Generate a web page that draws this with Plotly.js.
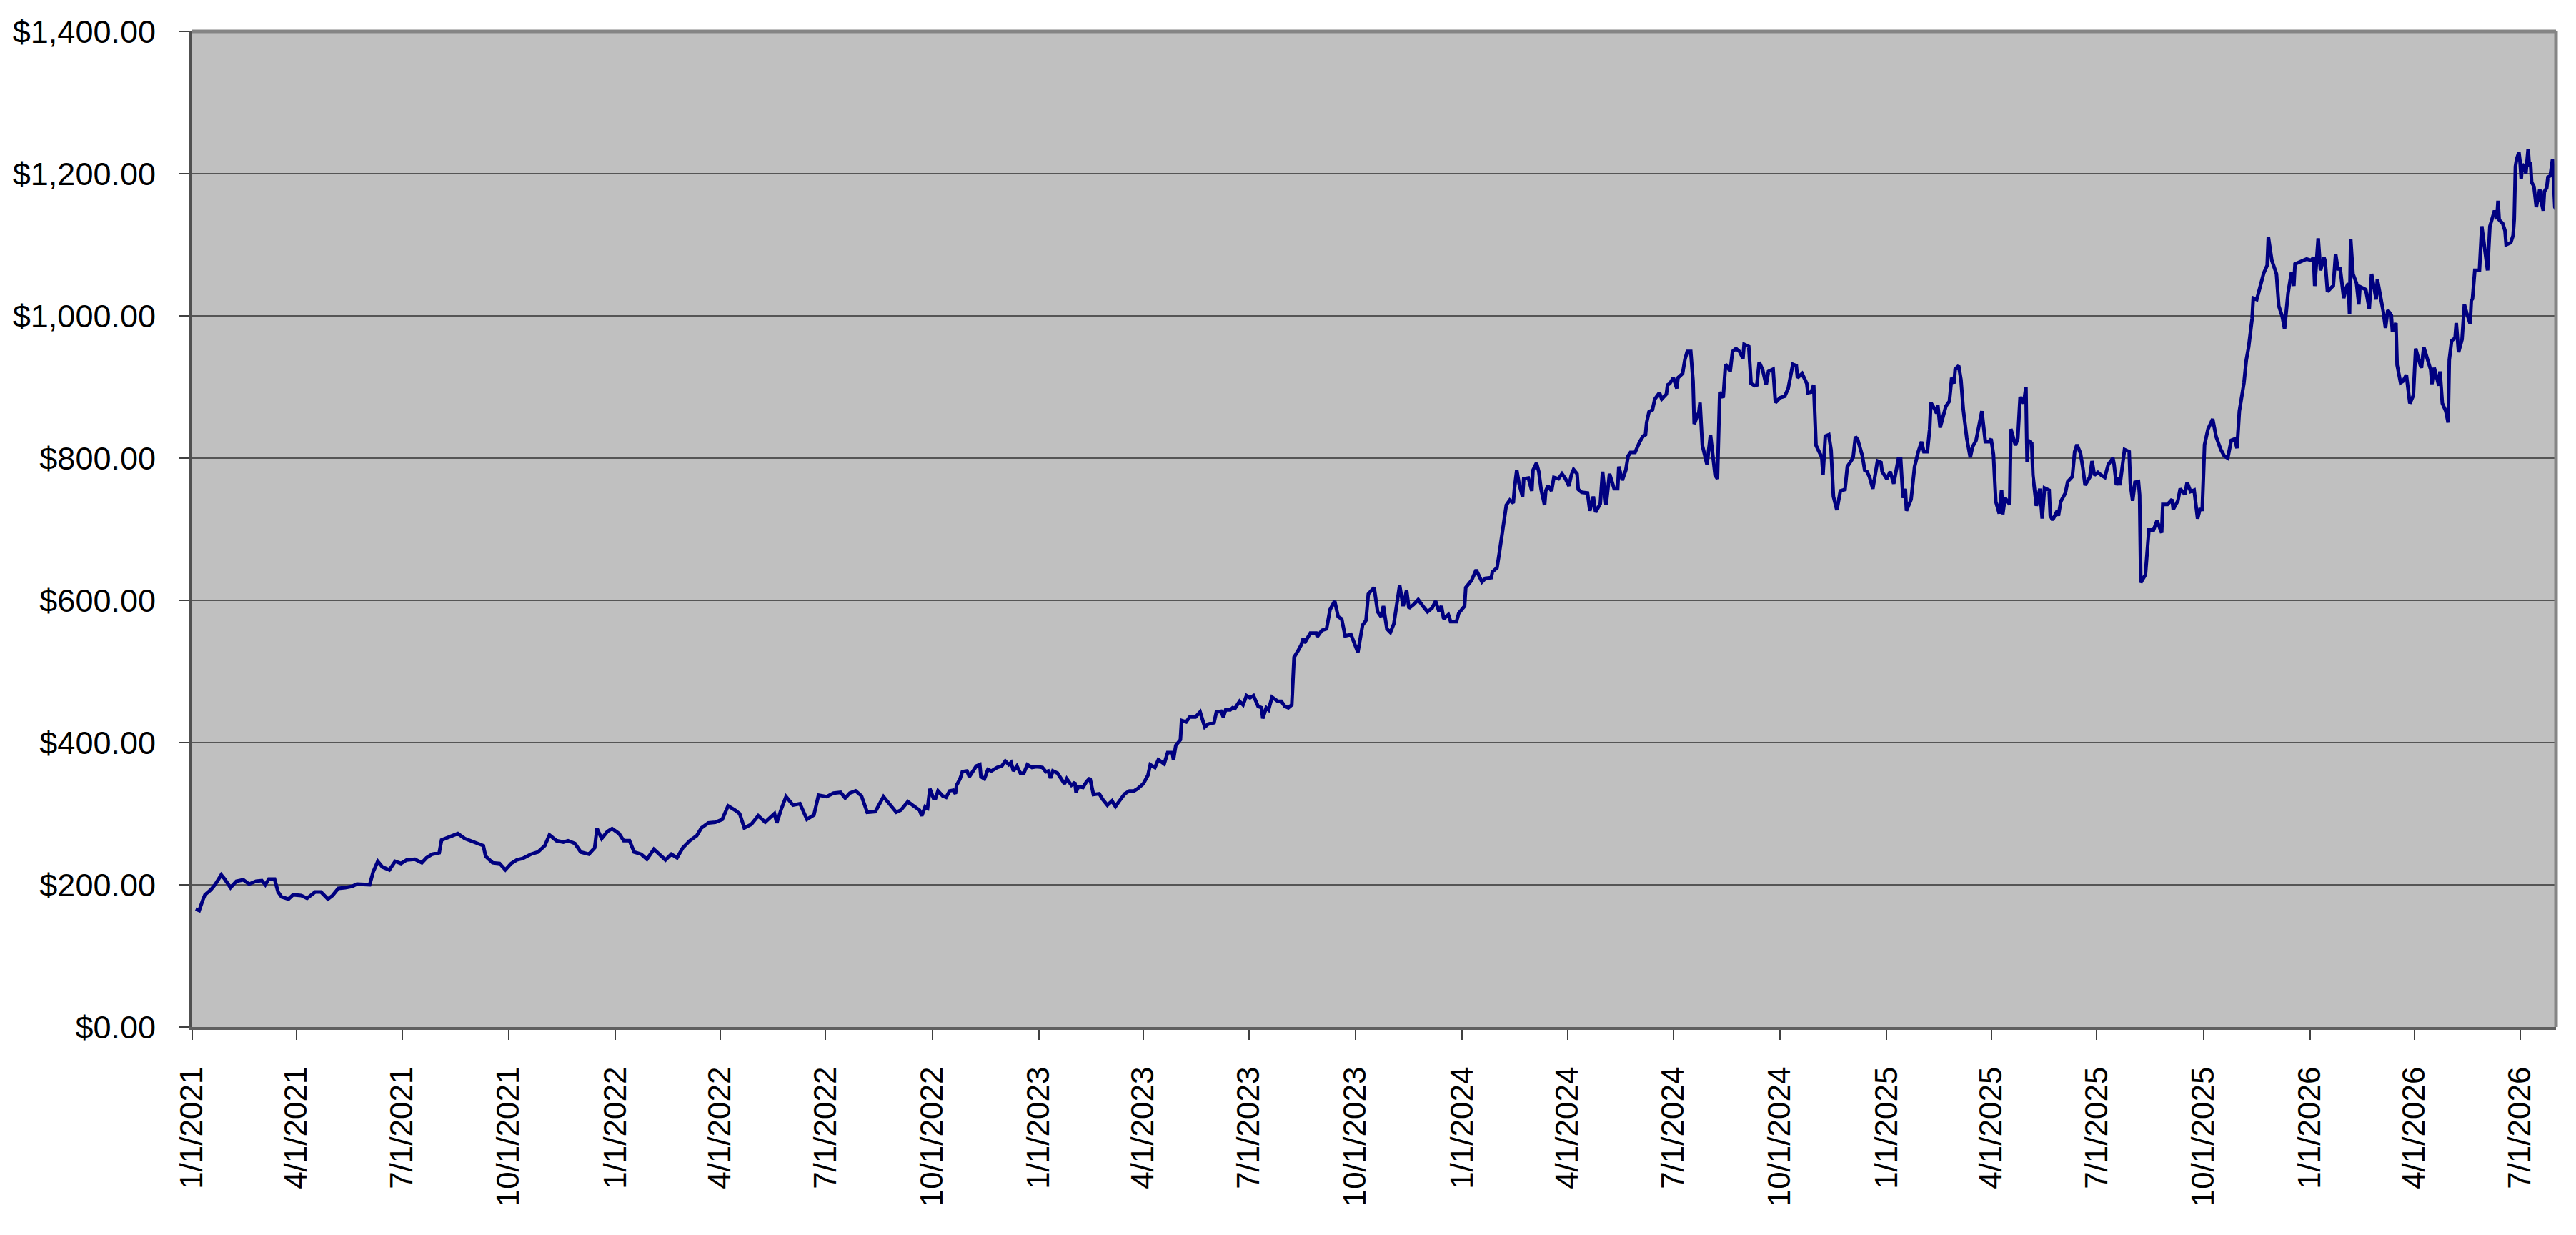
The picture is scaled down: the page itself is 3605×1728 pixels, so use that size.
<!DOCTYPE html>
<html>
<head>
<meta charset="utf-8">
<script src="https://cdn.plot.ly/plotly-3.0.1.min.js"></script>
<style>
  html, body { margin: 0; padding: 0; background: #fff; }
</style>
</head>
<body>
<div id="chart"></div>
<script>
// start of the series, every x value is a day count from here
const startDate = Date.UTC(2021, 0, 1);

// day offsets
const dayOffsets = [
  3, 6, 9, 11, 16, 20, 25, 28, 33, 38, 44, 49, 55, 60, 63, 66, 71, 74, 77, 83, 87, 94, 99, 106, 111, 117, 121, 126, 132, 138,
  142, 148, 153, 156, 160, 164, 170, 175, 180, 185, 192, 198, 202, 207, 213, 215, 221, 229, 235, 241, 247, 251, 253, 259, 265, 270, 275, 280, 285, 292,
  298, 304, 308, 314, 320, 324, 330, 335, 342, 347, 349, 353, 358, 362, 368, 372, 377, 381, 387, 392, 398, 403, 408, 413, 418, 423, 429, 435, 439, 445,
  451, 457, 462, 468, 472, 476, 482, 488, 494, 502, 504, 508, 512, 518, 524, 530, 536, 540, 547, 553, 559, 563, 567, 572, 577, 582, 589, 596, 601, 607,
  611, 617, 621, 627, 629, 632,
  634, 636, 639, 641, 643, 647, 650, 653, 656, 658, 659, 662, 664, 668, 670, 673, 676, 679, 680, 683, 686, 689, 694, 698, 701, 704, 706, 708, 711, 714,
  717, 720, 724, 728, 733, 736, 738, 740, 742, 746, 749, 752, 754, 758, 761, 762, 764, 768, 771, 774, 777, 782, 785, 789, 793, 796, 799, 804, 808, 812,
  815, 820, 824, 826, 830, 833, 838, 841, 845, 846, 848, 852, 853, 857, 860, 865, 869, 873, 876, 881, 883, 887, 889, 891, 895, 897, 899, 903, 906, 909,
  912, 915, 919, 922, 923, 926, 928, 931, 936, 939, 942, 945, 948, 950, 953, 956, 958, 959, 964, 969, 970, 974, 978, 981, 985, 988, 991, 994, 999, 1002,
  1005, 1009, 1012, 1014, 1019, 1022, 1025, 1027, 1030, 1033, 1036, 1041, 1044, 1047, 1049, 1053, 1057, 1061, 1065, 1069, 1072, 1075, 1077, 1079, 1083, 1085, 1090, 1092, 1097, 1098,
  1103, 1107, 1112, 1115,
  1120, 1121, 1125, 1127, 1130, 1133, 1136, 1139, 1140, 1142, 1144, 1147, 1148, 1152, 1155, 1156, 1159, 1161, 1163, 1166, 1167, 1169, 1172, 1174, 1178, 1181, 1184, 1187, 1189, 1191,
  1194, 1195, 1198, 1203, 1205, 1208, 1210, 1214, 1216, 1219, 1222, 1226, 1229, 1230, 1233, 1236, 1238, 1240, 1244, 1248, 1251, 1253, 1254, 1256, 1259, 1261, 1265, 1267, 1271, 1272,
  1274, 1277, 1280, 1281, 1285, 1287, 1289, 1292, 1294, 1295, 1299, 1300, 1302, 1304, 1306, 1309, 1311, 1313, 1315, 1317, 1320, 1322, 1326, 1328, 1331, 1334, 1337, 1338, 1342, 1344,
  1347, 1349, 1351, 1354, 1357, 1359, 1363, 1365, 1369, 1373, 1376, 1379, 1380, 1383, 1384, 1388, 1392, 1393, 1396, 1398, 1399, 1400, 1405, 1406, 1408, 1411, 1413, 1415, 1418, 1421,
  1425, 1427, 1431, 1432, 1434, 1436, 1440, 1442, 1444, 1446, 1449, 1453, 1456, 1457, 1461, 1464, 1467, 1471, 1473, 1475, 1477, 1478, 1482, 1485, 1488, 1491, 1493, 1496, 1498, 1499,
  1502, 1504, 1505, 1507, 1509, 1512, 1515, 1517, 1519, 1520, 1523, 1525, 1527, 1530, 1533,
  1535, 1538, 1540, 1541, 1543, 1546, 1549, 1551, 1553, 1555, 1558, 1560, 1561, 1563, 1567, 1568, 1572, 1574, 1576, 1579, 1581, 1582, 1583, 1586, 1587, 1590, 1593, 1595, 1597, 1601,
  1602, 1604, 1608, 1609, 1611, 1615, 1617, 1621, 1623, 1625, 1628, 1630, 1632, 1636, 1638, 1640, 1643, 1646, 1649, 1652, 1656, 1657, 1659, 1661, 1662, 1666, 1670, 1671, 1673, 1675,
  1678, 1679, 1680, 1684, 1687, 1691, 1694, 1698, 1699, 1703, 1707, 1708, 1712, 1714, 1718, 1720, 1723, 1726, 1729, 1731, 1733, 1735, 1738, 1742, 1745, 1749, 1752, 1755, 1758, 1761,
  1763, 1765, 1769, 1771, 1773, 1776, 1777, 1780, 1784, 1786, 1789, 1790, 1793, 1797, 1799, 1802, 1804, 1807, 1810, 1812, 1813, 1818, 1823, 1827, 1829, 1830, 1833, 1835, 1838, 1839,
  1841, 1845, 1846, 1848, 1850, 1852, 1855, 1857, 1859, 1860, 1861, 1863, 1866, 1868, 1869, 1874, 1876, 1877, 1879, 1883, 1884, 1887, 1889, 1891, 1893, 1896, 1897, 1900, 1901, 1904,
  1906, 1909, 1912, 1915, 1917, 1921, 1922, 1924, 1927, 1930, 1931, 1933, 1937, 1938, 1940, 1943, 1945, 1946, 1948, 1951, 1952, 1954, 1957,
  1959, 1961, 1964, 1965, 1966, 1968, 1972, 1974, 1976, 1979, 1981, 1983, 1985, 1987, 1988, 1989, 1992, 1994, 1995, 1999, 2001, 2002, 2003, 2004, 2006, 2007, 2008, 2009, 2011, 2012,
  2014, 2015, 2016, 2017, 2019, 2021, 2024, 2025, 2027, 2028, 2030, 2031, 2033, 2035, 2036, 2037, 2038
];

// balance in dollars, one per day offset
const balance = [
  166, 164, 178, 186, 193, 201, 214, 208, 196, 205, 207, 201, 205, 206, 200, 208, 208, 190, 183, 180, 186, 185, 181, 190, 190, 180, 185, 195, 196, 198,
  201, 200, 200, 218, 233, 225, 221, 233, 230, 235, 236, 231, 238, 243, 245, 263, 267, 272, 265, 261, 257, 255, 240, 231, 230, 221, 230, 235, 237, 243,
  246, 255, 270, 262, 260, 262, 258, 246, 243, 252, 279, 265, 275, 279, 272, 262, 262, 246, 243, 236, 250, 243, 235, 243, 238, 252, 262, 269, 280, 287,
  288, 292, 311, 305, 300, 280, 285, 297, 288, 300, 287, 307, 324, 312, 314, 292, 298, 326, 324, 329, 330, 322, 329, 332, 325, 302, 303, 324, 314, 302,
  305, 317, 312, 305, 297, 310,
  308, 335, 322, 322, 332, 325, 323, 332, 333, 328, 340, 349, 359, 360, 352, 359, 367, 369, 352, 349, 362, 360, 365, 367, 374, 369, 372, 360, 367, 357,
  357, 369, 365, 366, 365, 359, 360, 350, 360, 357, 349, 342, 349, 340, 344, 330, 338, 337, 345, 350, 327, 328, 320, 312, 318, 310, 317, 328, 332, 332,
  335, 342, 354, 369, 365, 376, 370, 386, 386, 376, 396, 404, 431, 429, 436, 436, 443, 422, 426, 428, 443, 444, 436, 446, 446, 449, 448, 458, 453, 466,
  463, 466, 451, 449, 434, 449, 446, 464, 458, 458, 451, 449, 453, 520, 528, 537, 547, 540, 554, 554, 549, 558, 560, 587, 599, 577, 574, 550, 552, 538,
  527, 565, 572, 609, 618, 584, 577, 592, 560, 555, 567, 621, 592, 614, 589, 594, 601, 592, 584, 589, 599, 584, 592, 574, 580, 570, 570, 582, 592, 618,
  628, 643, 626, 631,
  632, 640, 646, 667, 705, 734, 741, 737, 757, 783, 764, 746, 771, 772, 754, 783, 793, 781, 756, 734, 754, 761, 754, 773, 771, 778, 771, 761, 776, 784,
  778, 756, 752, 751, 726, 746, 724, 736, 781, 734, 778, 757, 757, 788, 769, 783, 803, 808, 808, 823, 831, 833, 850, 865, 868, 883, 892, 883, 890, 903,
  905, 913, 898, 913, 919, 939, 950, 950, 908, 848, 865, 878, 818, 804, 791, 833, 798, 776, 771, 893, 885, 932, 922, 950, 954, 950, 940, 960, 957, 905,
  902, 903, 935, 924, 903, 922, 925, 878, 885, 887, 898, 920, 932, 930, 913, 919, 905, 892, 893, 903, 846, 818, 801, 776, 831, 833, 811, 746, 727, 754,
  756, 788, 798, 801, 830, 826, 803, 783, 781, 774, 757, 796, 794, 781, 771, 781, 764, 799, 799, 744, 757, 726, 742, 788, 808, 823, 809, 809, 841, 878,
  870, 863, 875, 843, 855, 873, 880, 913, 905, 925, 930, 910, 868, 828, 801,
  816, 825, 841, 845, 866, 823, 823, 827, 805, 739, 722, 755, 721, 744, 735, 841, 818, 828, 886, 877, 900, 794, 825, 821, 776, 733, 757, 715, 758, 755,
  719, 713, 726, 719, 739, 751, 767, 774, 809, 819, 807, 787, 762, 773, 796, 776, 780, 776, 773, 791, 800, 791, 762, 773, 762, 812, 809, 764, 740, 766,
  767, 748, 625, 636, 699, 699, 712, 695, 735, 735, 742, 728, 740, 757, 749, 766, 753, 755, 715, 728, 728, 819, 841, 855, 830, 812, 803, 800, 825, 827,
  814, 866, 906, 938, 956, 996, 1025, 1023, 1050, 1060, 1071, 1111, 1078, 1059, 1014, 999, 982, 1032, 1062, 1042, 1073, 1077, 1080, 1078, 1082, 1042, 1109, 1064, 1082, 1077,
  1034, 1041, 1042, 1087, 1066, 1066, 1025, 1039, 1046, 1003, 1108, 1059, 1046, 1016, 1041, 1037, 1021, 1010, 1059, 1023, 1051, 1028, 1007, 983, 1008, 1001, 978, 990, 931, 906,
  908, 917, 877, 888, 954, 931, 927, 956, 938, 924, 904, 927, 902, 922, 877, 866, 850, 938, 965, 969, 990, 949, 967,
  1016, 1004, 989, 1022, 1024, 1064, 1064, 1126, 1103, 1064, 1126, 1136, 1148, 1136, 1162, 1135, 1130, 1120, 1100, 1103, 1113, 1136, 1210, 1220, 1230, 1217, 1193, 1213, 1210, 1200,
  1235, 1210, 1217, 1188, 1182, 1153, 1178, 1163, 1148, 1175, 1180, 1195, 1197, 1220, 1193, 1153, 1150
];

// quarterly ticks on the date axis
const tickDates = [
  '2021-01-01', '2021-04-01', '2021-07-01', '2021-10-01',
  '2022-01-01', '2022-04-01', '2022-07-01', '2022-10-01',
  '2023-01-01', '2023-04-01', '2023-07-01', '2023-10-01',
  '2024-01-01', '2024-04-01', '2024-07-01', '2024-10-01',
  '2025-01-01', '2025-04-01', '2025-07-01', '2025-10-01',
  '2026-01-01', '2026-04-01', '2026-07-01'
];
const tickLabels = [
  '1/1/2021', '4/1/2021', '7/1/2021', '10/1/2021',
  '1/1/2022', '4/1/2022', '7/1/2022', '10/1/2022',
  '1/1/2023', '4/1/2023', '7/1/2023', '10/1/2023',
  '1/1/2024', '4/1/2024', '7/1/2024', '10/1/2024',
  '1/1/2025', '4/1/2025', '7/1/2025', '10/1/2025',
  '1/1/2026', '4/1/2026', '7/1/2026'
];
const yTicks = [0, 200, 400, 600, 800, 1000, 1200, 1400];

// day offset -> 'YYYY-MM-DD'
function toDate(offset) {
  return new Date(startDate + offset * 86400000).toISOString().slice(0, 10);
}

const font = 'Liberation Sans, Arial, sans-serif';

const data = [
  {
    x: dayOffsets.map(toDate),
    y: balance,
    type: 'scatter',
    mode: 'lines',
    line: { color: '#000080', width: 5 },
    hoverinfo: 'skip',
  },
];

const layout = {
  width: 3605,
  height: 1728,
  margin: { l: 269, r: 28, t: 44, b: 291, pad: 0 },
  paper_bgcolor: '#ffffff',
  plot_bgcolor: '#c0c0c0',
  showlegend: false,
  font: { family: font, size: 44, color: '#000' },
  xaxis: {
    type: 'date',
    range: ['2021-01-01', '2026-08-01'],
    tickvals: tickDates,
    ticktext: tickLabels,
    tickangle: -90,
    ticks: 'outside',
    ticklen: 14,
    tickwidth: 2,
    tickcolor: '#404040',
    ticklabelstandoff: 20,
    tickfont: { family: font, size: 44, color: '#000' },
    showgrid: false,
    zeroline: false,
    showline: true,
    linecolor: '#606060',
    linewidth: 4,
  },
  yaxis: {
    range: [0, 1400],
    tickvals: yTicks,
    tickformat: '$,.2f',
    ticks: 'outside',
    ticklen: 14,
    tickwidth: 2,
    tickcolor: '#404040',
    ticklabelstandoff: 24,
    tickfont: { family: font, size: 45, color: '#000' },
    showgrid: true,
    gridcolor: '#555555',
    gridwidth: 2.5,
    zeroline: false,
    showline: true,
    linecolor: '#505050',
    linewidth: 4,
  },
  // lighter gray frame on the top and right of the plot area
  shapes: [
    {
      type: 'line', xref: 'x domain', yref: 'y domain',
      x0: 0, x1: 1, y0: 1, y1: 1,
      line: { color: '#858585', width: 5 },
    },
    {
      type: 'line', xref: 'x domain', yref: 'y domain',
      x0: 1, x1: 1, y0: 0, y1: 1,
      line: { color: '#858585', width: 5 },
    },
  ],
};

Plotly.newPlot('chart', data, layout, { staticPlot: true, displayModeBar: false });
</script>
</body>
</html>
